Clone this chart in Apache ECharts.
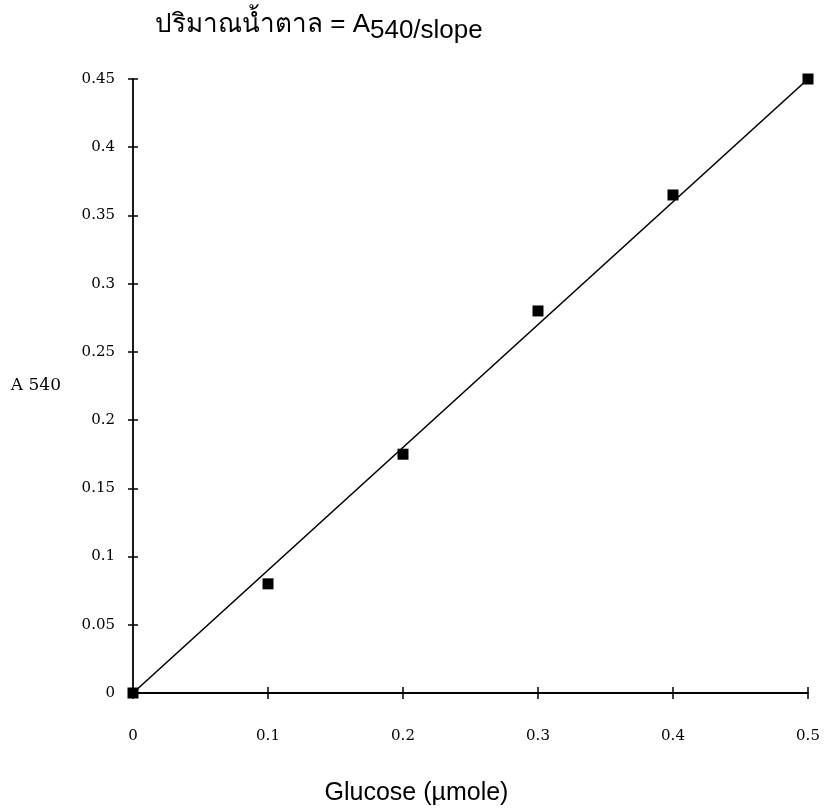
<!DOCTYPE html>
<html><head><meta charset="utf-8">
<script src="https://cdn.jsdelivr.net/npm/echarts@6/dist/echarts.min.js"></script>
<style>html,body{margin:0;padding:0;background:#fff}#c{width:824px;height:811px}</style>
</head><body><div id="c"></div>
<script>
const glucose = [0, 0.1, 0.2, 0.3, 0.4, 0.5];
const absorbance = [0, 0.08, 0.175, 0.28, 0.365, 0.45];
const fitX = [0, 0.5];
const fitY = [0, 0.45];
const titleMain = 'ปริมาณน้ำตาล = A';
const titleSub = '540/slope';
const xName = 'Glucose (µmole)';
const yName = 'A 540';

const titleFont = '26px "Liberation Sans", "DejaVu Sans", sans-serif';
const ctx = document.createElement('canvas').getContext('2d');
ctx.font = titleFont;
const mainW = ctx.measureText(titleMain).width;

const chart = echarts.init(document.getElementById('c'), null, {renderer: 'canvas'});
const labelFont = {color: '#000', fontFamily: 'DejaVu Serif', fontSize: 15};
const axisLine = {show: true, lineStyle: {color: '#000', width: 1.8}};
function xAx(inside, main) {
  return {
    type: 'value', min: 0, max: 0.5, interval: 0.1, position: 'bottom',
    axisLine: main ? axisLine : {show: false},
    axisTick: {show: true, inside: inside, length: 6, lineStyle: {color: '#000', width: 1.5}},
    axisLabel: Object.assign({show: main, margin: 36}, labelFont),
    splitLine: {show: false},
    name: main ? xName : '', nameLocation: 'middle', nameGap: 88,
    nameTextStyle: {color: '#000', fontFamily: 'Liberation Sans', fontSize: 25, padding: [0, 108, 0, 0]}
  };
}
function yAx(inside, main) {
  return {
    type: 'value', min: 0, max: 0.45, interval: 0.05, position: 'left',
    axisLine: main ? axisLine : {show: false},
    axisTick: {show: true, inside: inside, length: 5, lineStyle: {color: '#000', width: 1.5}},
    axisLabel: Object.assign({show: main, margin: 18}, labelFont),
    splitLine: {show: false},
    name: main ? yName : '', nameLocation: 'middle', nameGap: 72, nameRotate: 0,
    nameTextStyle: {color: '#000', fontFamily: 'DejaVu Serif', fontSize: 17}
  };
}
chart.setOption({
  animation: false,
  backgroundColor: '#fff',
  graphic: [
    {type: 'text', left: 155, top: 12, style: {text: titleMain, font: titleFont, fill: '#000'}},
    {type: 'text', left: 155 + mainW, top: 18, style: {text: titleSub, font: titleFont, fill: '#000'}}
  ],
  grid: {left: 133, right: 16, top: 79, bottom: 108, containLabel: false},
  xAxis: [xAx(false, true), xAx(true, false)],
  yAxis: [yAx(false, true), yAx(true, false)],
  series: [
    {
      type: 'line', data: fitX.map((x, i) => [x, fitY[i]]),
      symbol: 'none', lineStyle: {color: '#000', width: 1.6}, z: 2
    },
    {
      type: 'scatter', data: glucose.map((x, i) => [x, absorbance[i]]),
      symbol: 'rect', symbolSize: 11, itemStyle: {color: '#000', opacity: 1}, z: 3
    }
  ]
});
</script></body></html>
